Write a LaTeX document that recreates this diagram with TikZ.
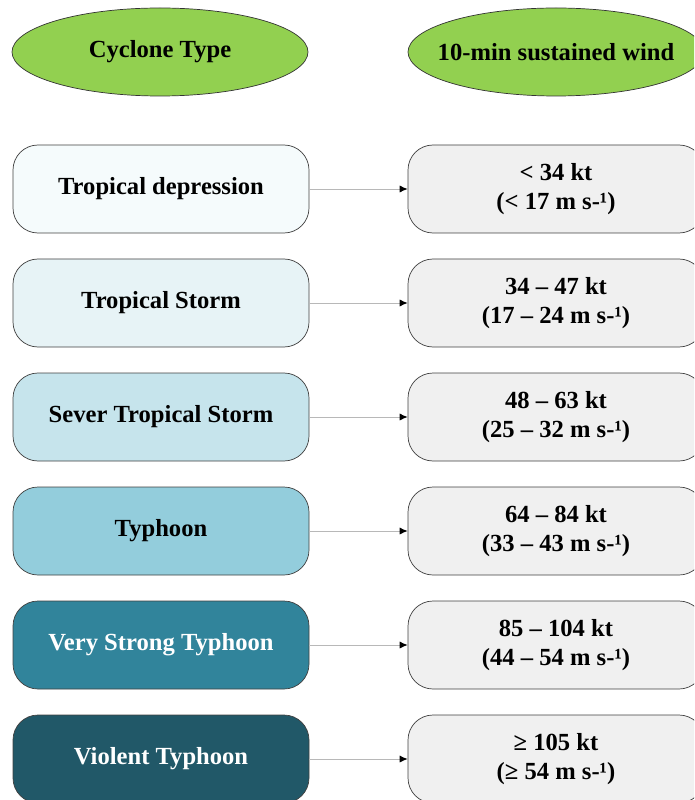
\documentclass[tikz,border=0pt]{standalone}
\usepackage{fontspec}
\setmainfont{Liberation Serif}
\usepackage{xcolor}
\usepackage{tikz}
\usetikzlibrary{shapes,arrows,arrows.meta,positioning}

\definecolor{headgreen}{HTML}{92D050}
\definecolor{lvlA}{HTML}{F5FBFC}
\definecolor{lvlB}{HTML}{E7F3F6}
\definecolor{lvlC}{HTML}{C6E4EC}
\definecolor{lvlD}{HTML}{93CDDC}
\definecolor{lvlE}{HTML}{31849B}
\definecolor{lvlF}{HTML}{215868}
\definecolor{windgray}{HTML}{F0F0F0}

\tikzset{
  boldtext/.style={font=\fontsize{14}{16.5}\selectfont\bfseries},
  header/.style={draw=black!80, ellipse, fill=headgreen, minimum width=5.92cm, minimum height=1.76cm, inner sep=0pt},
  ctype/.style={draw=black!75, rectangle, rounded corners=0.5cm, minimum width=5.92cm, minimum height=1.76cm, align=center, boldtext},
  wind/.style={ctype, fill=windgray},
  link/.style={draw=black!28, line width=0.5pt, -{Latex[length=4.5pt,width=4pt,color=black]}}
}

\begin{document}
\begin{tikzpicture}[node distance=2.28cm]
\useasboundingbox (0,0) rectangle (13.88,-16);
\clip (0,0) rectangle (13.88,-16);
% headings (text as centre labels so the ellipses keep their size)
\node[header, label={[boldtext]center:Cyclone Type}] (hc) at (3.2,-1.04) {};
\node[header, right of=hc, node distance=7.92cm, label={[boldtext]center:10-min sustained wind}] (hw) {};
% cyclone types
\node[ctype, fill=lvlA] (t1) at (3.22,-3.78) {Tropical depression};
\node[ctype, fill=lvlB, below of=t1] (t2) {Tropical Storm};
\node[ctype, fill=lvlC, below of=t2] (t3) {Sever Tropical Storm};
\node[ctype, fill=lvlD, below of=t3] (t4) {Typhoon};
\node[ctype, fill=lvlE, text=white, below of=t4] (t5) {Very Strong Typhoon};
\node[ctype, fill=lvlF, text=white, below of=t5] (t6) {Violent Typhoon};
% wind speeds
\node[wind, right of=t1, node distance=7.9cm] (w1) {< 34 kt\\(< 17 m s-¹)};
\node[wind, below of=w1] (w2) {34 – 47 kt\\(17 – 24 m s-¹)};
\node[wind, below of=w2] (w3) {48 – 63 kt\\(25 – 32 m s-¹)};
\node[wind, below of=w3] (w4) {64 – 84 kt\\(33 – 43 m s-¹)};
\node[wind, below of=w4] (w5) {85 – 104 kt\\(44 – 54 m s-¹)};
\node[wind, below of=w5] (w6) {≥ 105 kt\\(≥ 54 m s-¹)};
\foreach \i in {1,...,6}
  \draw[link] (t\i) -- (w\i);
\end{tikzpicture}
\end{document}
